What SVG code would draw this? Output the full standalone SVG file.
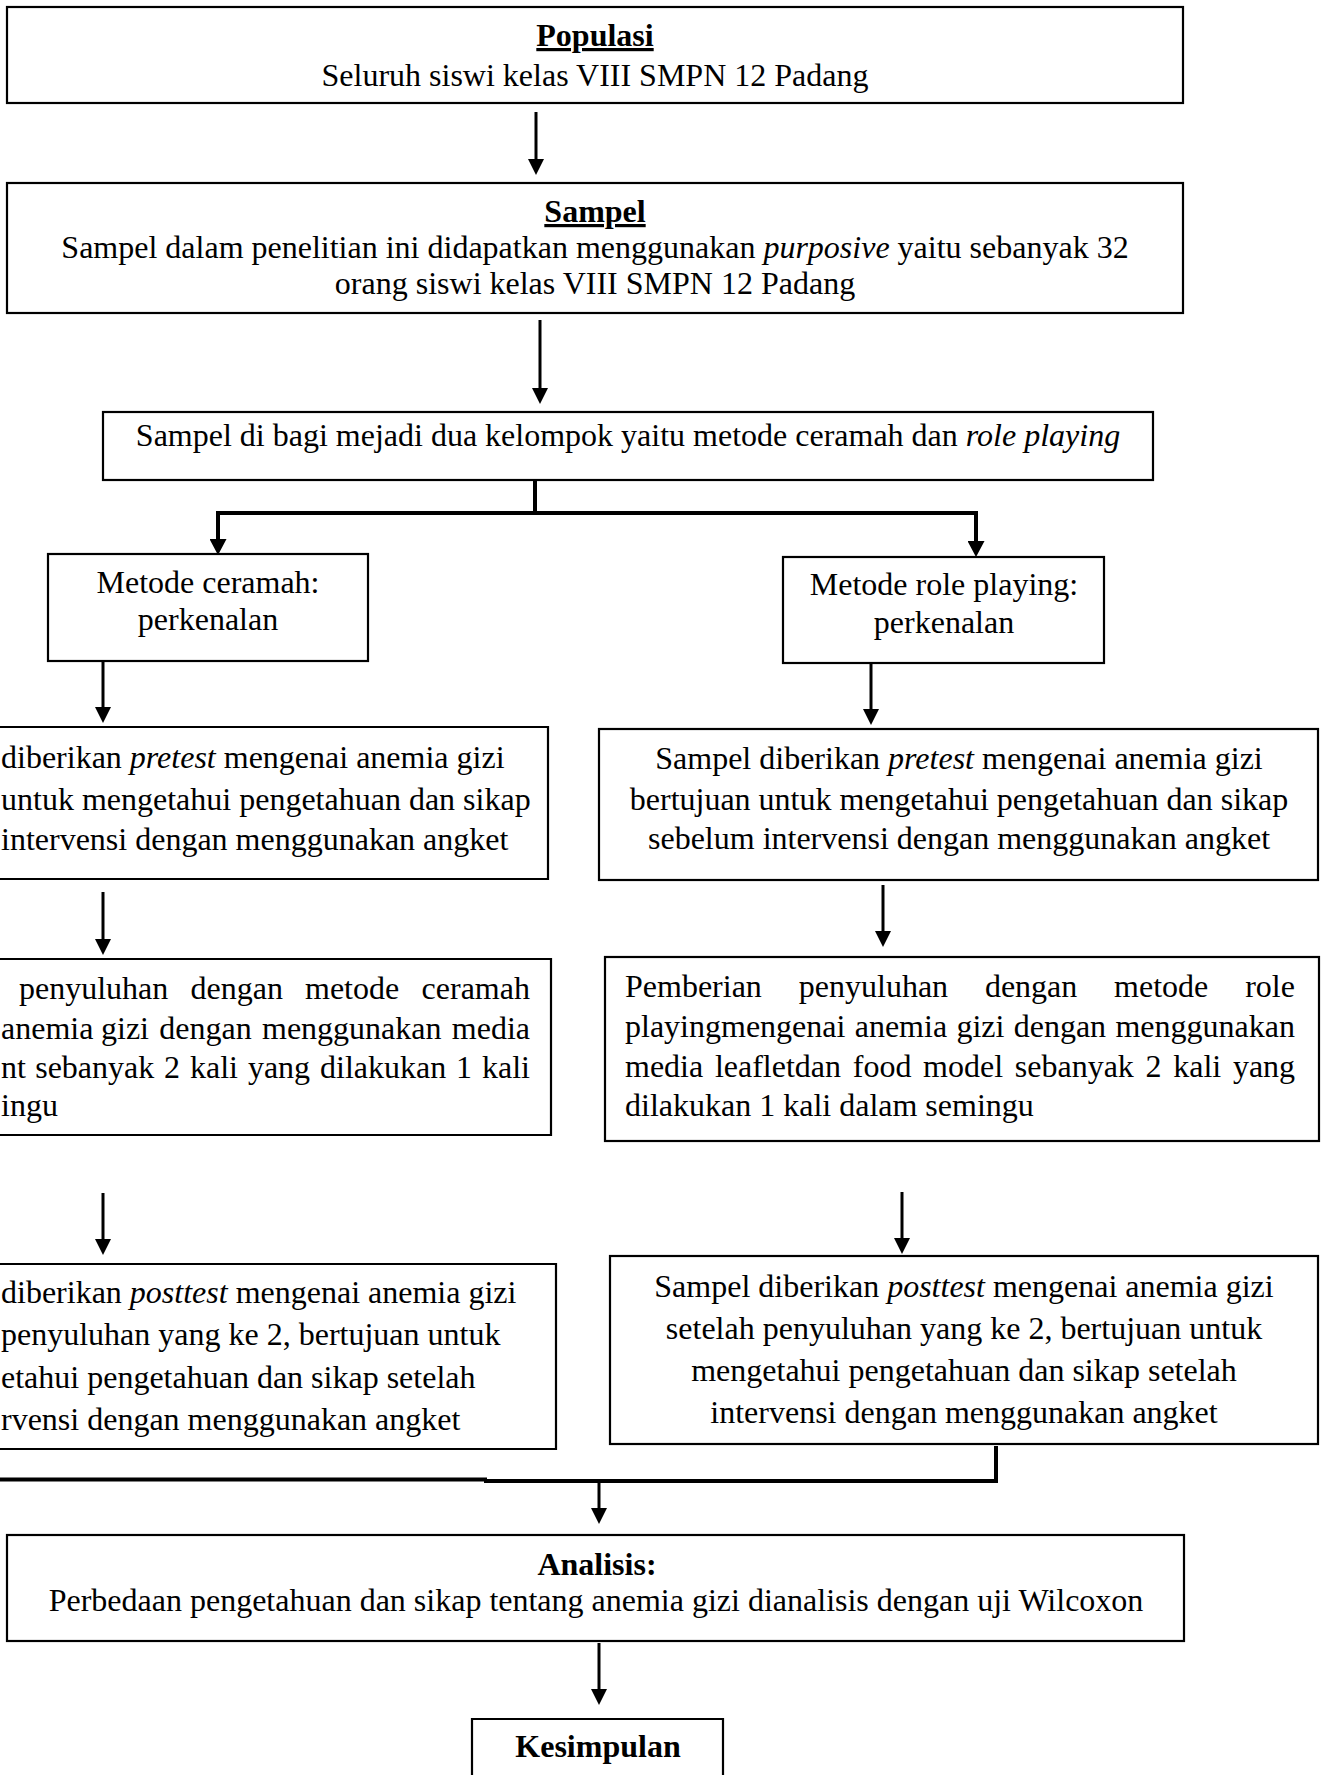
<svg xmlns="http://www.w3.org/2000/svg" width="1327" height="1775" viewBox="0 0 1327 1775">
<defs>
<style>
.box{fill:#fff;stroke:#000;stroke-width:2.2}
.open{fill:none;stroke:#000;stroke-width:2.2}
.t{font-family:"Liberation Serif","Times New Roman",serif;font-size:32px;fill:#000}
.c{text-anchor:middle}
.e{text-anchor:end}
.b{font-weight:bold}
.i{font-style:italic}
.u{text-decoration:underline}
.ln{fill:none;stroke:#000;stroke-width:3}
.lnb{fill:none;stroke:#000;stroke-width:4}
</style>
<marker id="ah" markerUnits="userSpaceOnUse" markerWidth="16" markerHeight="16" refX="10" refY="8" orient="auto"><path d="M0,0 L16,8 L0,16 z" fill="#000"/></marker>
<marker id="ahb" markerUnits="userSpaceOnUse" markerWidth="16" markerHeight="17" refX="10" refY="8.5" orient="auto"><path d="M0,0 L16,8.5 L0,17 z" fill="#000"/></marker>
</defs>
<rect width="1327" height="1775" fill="#fff"/>

<g id="connectors">
<line class="ln" x1="536" y1="112" x2="536" y2="169" marker-end="url(#ah)"/>
<line class="ln" x1="540" y1="320" x2="540" y2="398" marker-end="url(#ah)"/>
<path class="lnb" d="M535,480 V513 M216,513 H978"/>
<line class="lnb" x1="218" y1="513" x2="218" y2="549" marker-end="url(#ahb)"/>
<line class="lnb" x1="976" y1="513" x2="976" y2="551" marker-end="url(#ahb)"/>
<line class="ln" x1="103" y1="661" x2="103" y2="717" marker-end="url(#ah)"/>
<line class="ln" x1="871" y1="663" x2="871" y2="719" marker-end="url(#ah)"/>
<line class="ln" x1="103" y1="892" x2="103" y2="949" marker-end="url(#ah)"/>
<line class="ln" x1="883" y1="885" x2="883" y2="941" marker-end="url(#ah)"/>
<line class="ln" x1="103" y1="1193" x2="103" y2="1249" marker-end="url(#ah)"/>
<line class="ln" x1="902" y1="1192" x2="902" y2="1248" marker-end="url(#ah)"/>
<path class="lnb" d="M996,1446 V1481 H484 M487,1479.5 H0"/>
<line class="ln" x1="599" y1="1481" x2="599" y2="1518" marker-end="url(#ah)"/>
<line class="ln" x1="599" y1="1643" x2="599" y2="1699" marker-end="url(#ah)"/>
</g>

<g id="populasi">
<rect class="box" x="7" y="7" width="1176" height="96"/>
<text class="t c b u" x="595" y="46">Populasi</text>
<text class="t c" x="595" y="86">Seluruh siswi kelas VIII SMPN 12 Padang</text>
</g>

<g id="sampel">
<rect class="box" x="7" y="183" width="1176" height="130"/>
<text class="t c b u" x="595" y="222">Sampel</text>
<text class="t c" x="595" y="258">Sampel dalam penelitian ini didapatkan menggunakan <tspan class="i">purposive</tspan> yaitu sebanyak 32</text>
<text class="t c" x="595" y="294">orang siswi kelas VIII SMPN 12 Padang</text>
</g>

<g id="pembagian">
<rect class="box" x="103" y="412" width="1050" height="68"/>
<text class="t c" x="628" y="446">Sampel di bagi mejadi dua kelompok yaitu metode ceramah dan <tspan class="i">role playing</tspan></text>
</g>

<g id="ceramah">
<rect class="box" x="48" y="554" width="320" height="107"/>
<text class="t c" x="208" y="593">Metode ceramah:</text>
<text class="t c" x="208" y="630">perkenalan</text>
</g>

<g id="roleplaying">
<rect class="box" x="783" y="557" width="321" height="106"/>
<text class="t c" x="944" y="595">Metode role playing:</text>
<text class="t c" x="944" y="633">perkenalan</text>
</g>

<g id="pretest-ceramah">
<path class="open" d="M0,727 H548 V879 H0"/>
<text class="t" x="1" y="768">diberikan <tspan class="i">pretest</tspan> mengenai anemia gizi</text>
<text class="t" x="1" y="810">untuk mengetahui pengetahuan dan sikap</text>
<text class="t" x="1" y="850">intervensi dengan menggunakan angket</text>
</g>

<g id="pretest-role">
<rect class="box" x="599" y="729" width="719" height="151"/>
<text class="t c" x="959" y="769">Sampel diberikan <tspan class="i">pretest</tspan> mengenai anemia gizi</text>
<text class="t c" x="959" y="810">bertujuan untuk mengetahui pengetahuan dan sikap</text>
<text class="t c" x="959" y="849">sebelum intervensi dengan menggunakan angket</text>
</g>

<g id="penyuluhan-ceramah">
<path class="open" d="M0,959 H551 V1135 H0"/>
<text class="t" y="999"><tspan x="19">penyuluhan</tspan><tspan x="190.5">dengan</tspan><tspan x="305">metode</tspan><tspan x="421.6">ceramah</tspan></text>
<text class="t" y="1039"><tspan x="1">anemia</tspan><tspan x="101">gizi</tspan><tspan x="159.3">dengan</tspan><tspan x="262">menggunakan</tspan><tspan x="451.8">media</tspan></text>
<text class="t" y="1078"><tspan x="1">nt</tspan><tspan x="35.2">sebanyak</tspan><tspan x="164.1">2</tspan><tspan x="190">kali</tspan><tspan x="247.9">yang</tspan><tspan x="320">dilakukan</tspan><tspan x="456">1</tspan><tspan x="482">kali</tspan></text>
<text class="t" x="1" y="1116">ingu</text>
</g>

<g id="penyuluhan-role">
<rect class="box" x="605" y="957" width="714" height="184"/>
<text class="t" y="997"><tspan x="625">Pemberian</tspan><tspan x="798.8">penyuluhan</tspan><tspan x="984.9">dengan</tspan><tspan x="1114.1">metode</tspan><tspan x="1245.2">role</tspan></text>
<text class="t" y="1037"><tspan x="625">playingmengenai</tspan><tspan x="854.7">anemia</tspan><tspan x="956.4">gizi</tspan><tspan x="1013.7">dengan</tspan><tspan x="1115.4">menggunakan</tspan></text>
<text class="t" y="1077"><tspan x="625">media</tspan><tspan x="714.9">leafletdan</tspan><tspan x="852.8">food</tspan><tspan x="923.1">model</tspan><tspan x="1014.8">sebanyak</tspan><tspan x="1145.5">2</tspan><tspan x="1173.2">kali</tspan><tspan x="1232.9">yang</tspan></text>
<text class="t" x="625" y="1116">dilakukan 1 kali dalam semingu</text>
</g>

<g id="posttest-ceramah">
<path class="open" d="M0,1264 H556 V1449 H0"/>
<text class="t" x="1" y="1303">diberikan <tspan class="i">posttest</tspan> mengenai anemia gizi</text>
<text class="t" x="1" y="1345">penyuluhan yang ke 2, bertujuan untuk</text>
<text class="t" x="1" y="1388">etahui pengetahuan dan sikap setelah</text>
<text class="t" x="1" y="1430">rvensi dengan menggunakan angket</text>
</g>

<g id="posttest-role">
<rect class="box" x="610" y="1256" width="708" height="188"/>
<text class="t c" x="964" y="1297">Sampel diberikan <tspan class="i">posttest</tspan> mengenai anemia gizi</text>
<text class="t c" x="964" y="1339">setelah penyuluhan yang ke 2, bertujuan untuk</text>
<text class="t c" x="964" y="1381">mengetahui pengetahuan dan sikap setelah</text>
<text class="t c" x="964" y="1423">intervensi dengan menggunakan angket</text>
</g>

<g id="analisis">
<rect class="box" x="7" y="1535" width="1177" height="106"/>
<text class="t c b" x="597" y="1575">Analisis:</text>
<text class="t c" x="596" y="1611">Perbedaan pengetahuan dan sikap tentang anemia gizi dianalisis dengan uji Wilcoxon</text>
</g>

<g id="kesimpulan">
<path class="open" d="M472,1776 V1719 H723 V1776"/>
<text class="t c b" x="598" y="1757">Kesimpulan</text>
</g>
</svg>
